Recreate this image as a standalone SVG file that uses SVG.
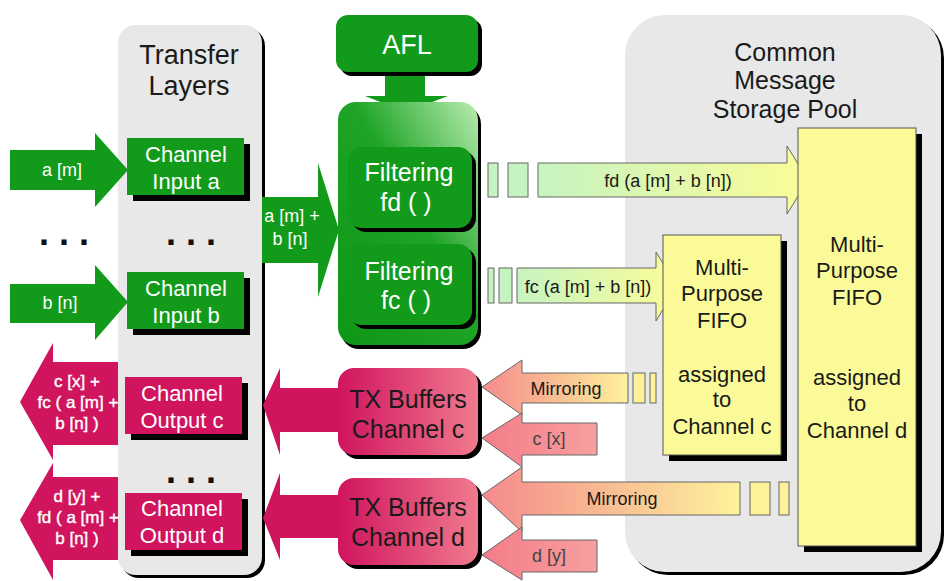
<svg xmlns="http://www.w3.org/2000/svg" width="947" height="581" viewBox="0 0 947 581">
<defs>
<style>
text{font-family:"Liberation Sans",Arial,sans-serif;text-anchor:middle}
.w{fill:#fff}
.k{fill:#1a1a1a}
.g{fill:#129b1b}
.m{fill:#d0145e}
.sh{fill:#000}
.y{fill:#fafa98;stroke:#555;stroke-width:1}
.t27{font-size:27px}
.t25{font-size:25px}
.t22{font-size:22px}
.t18{font-size:18px}
.t16b{font-size:17px;stroke:#fff;stroke-width:0.4}
.dots{font-size:36px;font-weight:bold;fill:#111}
.ol{stroke:#666;stroke-width:1}
</style>
<linearGradient id="gf" x1="0" y1="1" x2="1" y2="0">
<stop offset="0" stop-color="#0e9616"/>
<stop offset="0.55" stop-color="#1ea426"/>
<stop offset="1" stop-color="#b8ecb0"/>
</linearGradient>
<linearGradient id="gtx" x1="0" y1="0" x2="1" y2="0">
<stop offset="0" stop-color="#d0145e"/>
<stop offset="1" stop-color="#f07a8e"/>
</linearGradient>
<linearGradient id="ggy" x1="0" y1="0" x2="1" y2="0">
<stop offset="0" stop-color="#c6f4c0"/>
<stop offset="1" stop-color="#fcfc98"/>
</linearGradient>
<linearGradient id="gmir" x1="0" y1="0" x2="1" y2="0">
<stop offset="0" stop-color="#f58a8c"/>
<stop offset="1" stop-color="#fdf29a"/>
</linearGradient>
<linearGradient id="gpk" x1="0" y1="0" x2="1" y2="0">
<stop offset="0" stop-color="#f47c88"/>
<stop offset="1" stop-color="#f8a0a0"/>
</linearGradient>
</defs>

<!-- panels -->
<g id="transfer-layers">
<rect x="121" y="28" width="144" height="550" rx="18" class="sh"/>
<rect x="118" y="25" width="144" height="550" rx="18" fill="#e8e8e8"/>
<text x="189" y="64" class="t27 k">Transfer</text>
<text x="189" y="95" class="t27 k">Layers</text>
<text x="191" y="245" class="dots">. . .</text>
<text x="191" y="483" class="dots">. . .</text>
</g>
<g id="storage-pool">
<rect x="628" y="18" width="316" height="557" rx="40" class="sh"/>
<rect x="625" y="15" width="316" height="557" rx="40" fill="#e8e8e8"/>
<text x="785" y="61" class="t25 k">Common</text>
<text x="785" y="89" class="t25 k">Message</text>
<text x="785" y="118" class="t25 k">Storage Pool</text>
</g>
<text x="64" y="245" class="dots">. . .</text>

<!-- connectors -->
<g id="connectors">
<polygon points="10,150 95,150 95,133 128,170 95,207 95,190 10,190" class="g"/>
<polygon points="10,284 95,284 95,265 128,302 95,340 95,323 10,323" class="g"/>
<polygon points="262,197 318,197 318,163 339,230 318,297 318,263 262,263" class="g"/>
<polygon points="385,72 425,72 425,96 448,96 406,112 365,96 385,96" class="g"/>
<polygon points="118,362 53,362 53,343 20,402 53,460 53,445 118,445" class="m"/>
<polygon points="118,477 53,477 53,463 20,520 53,580 53,560 118,560" class="m"/>
<polygon points="340,388 280,388 280,368 263,405 280,455 280,432 340,432" class="m"/>
<polygon points="340,495 280,495 280,473 263,518 280,560 280,538 340,538" class="m"/>
<rect x="488" y="163" width="10" height="34" fill="#c6f4c0" class="ol"/>
<rect x="508" y="163" width="20" height="34" fill="#c6f4c0" class="ol"/>
<polygon points="538,163 787,163 787,146 808,180 787,214 787,197 538,197" fill="url(#ggy)" class="ol"/>
<rect x="488" y="268" width="6" height="35" fill="#c6f4c0" class="ol"/>
<rect x="499" y="268" width="13" height="35" fill="#c6f4c0" class="ol"/>
<polygon points="517,268 656,268 656,252 677,286 656,321 656,303 517,303" fill="url(#ggy)" class="ol"/>
<polygon points="628,373 522,373 522,360 482,387 522,415 522,403 628,403" fill="url(#gmir)" class="ol"/>
<rect x="633" y="373" width="12" height="30" fill="#fdf29a" class="ol"/>
<rect x="650" y="373" width="6" height="30" fill="#fdf29a" class="ol"/>
<polygon points="597,423 522,423 522,413 482,438 522,467 522,455 597,455" fill="url(#gpk)" class="ol"/>
<polygon points="740,482 522,482 522,467 482,495 522,532 522,515 740,515" fill="url(#gmir)" class="ol"/>
<rect x="750" y="482" width="20" height="33" fill="#fdf29a" class="ol"/>
<rect x="779" y="482" width="10" height="33" fill="#fdf29a" class="ol"/>
<polygon points="597,540 522,540 522,527 482,555 522,580 522,572 597,572" fill="url(#gpk)" class="ol"/>
<text x="62" y="176" class="t18 w">a [m]</text>
<text x="60" y="309" class="t18 w">b [n]</text>
<text x="292" y="222" class="t18 w">a [m] +</text>
<text x="290" y="245" class="t18 w">b [n]</text>
<text x="668" y="187" class="t18 k">fd (a [m] + b [n])</text>
<text x="588" y="293" class="t18 k">fc (a [m] + b [n])</text>
<text x="566" y="395" class="t18 k">Mirroring</text>
<text x="549" y="445" class="t18" fill="#444">c [x]</text>
<text x="622" y="505" class="t18 k">Mirroring</text>
<text x="549" y="562" class="t18" fill="#444">d [y]</text>
<text x="77" y="387" class="t16b w">c [x] +</text>
<text x="78" y="408" class="t16b w">fc ( a [m] +</text>
<text x="77" y="429" class="t16b w">b [n] )</text>
<text x="77" y="502" class="t16b w">d [y] +</text>
<text x="78" y="523" class="t16b w">fd ( a [m] +</text>
<text x="77" y="544" class="t16b w">b [n] )</text>
</g>

<!-- nodes -->
<g id="channel-input-a">
<rect x="133" y="144" width="117" height="57" class="sh"/>
<rect x="127" y="138" width="117" height="57" class="g"/>
<text x="186" y="162" class="t22 w">Channel</text>
<text x="186" y="189" class="t22 w">Input a</text>
</g>
<g id="channel-input-b">
<rect x="133" y="278" width="117" height="57" class="sh"/>
<rect x="127" y="272" width="117" height="57" class="g"/>
<text x="186" y="296" class="t22 w">Channel</text>
<text x="186" y="323" class="t22 w">Input b</text>
</g>
<g id="channel-output-c">
<rect x="131" y="383" width="117" height="57" class="sh"/>
<rect x="125" y="377" width="117" height="57" class="m"/>
<text x="182" y="401" class="t22 w">Channel</text>
<text x="182" y="428" class="t22 w">Output c</text>
</g>
<g id="channel-output-d">
<rect x="131" y="499" width="117" height="57" class="sh"/>
<rect x="125" y="493" width="117" height="57" class="m"/>
<text x="182" y="516" class="t22 w">Channel</text>
<text x="182" y="543" class="t22 w">Output d</text>
</g>
<g id="afl">
<rect x="340" y="19" width="142" height="57" rx="12" class="sh"/>
<rect x="336" y="15" width="142" height="57" rx="12" class="g"/>
<text x="407" y="54" class="t27 w">AFL</text>
</g>
<g id="filter-block">
<rect x="341" y="106" width="140" height="243" rx="18" class="sh"/>
<rect x="338" y="102" width="140" height="243" rx="18" fill="url(#gf)"/>
</g>
<g id="filtering-fd">
<rect x="352" y="151" width="124" height="81" rx="14" class="sh"/>
<rect x="348" y="147" width="124" height="81" rx="14" class="g"/>
<text x="409" y="181" class="t25 w">Filtering</text>
<text x="406" y="211" class="t25 w">fd ( )</text>
</g>
<g id="filtering-fc">
<rect x="352" y="248" width="124" height="81" rx="14" class="sh"/>
<rect x="348" y="244" width="124" height="81" rx="14" class="g"/>
<text x="409" y="280" class="t25 w">Filtering</text>
<text x="406" y="309" class="t25 w">fc ( )</text>
</g>
<g id="tx-buffers-c">
<rect x="342" y="372" width="140" height="87" rx="16" class="sh"/>
<rect x="338" y="368" width="140" height="87" rx="16" fill="url(#gtx)"/>
<text x="408" y="408" class="t25 k">TX Buffers</text>
<text x="408" y="438" class="t25 k">Channel c</text>
</g>
<g id="tx-buffers-d">
<rect x="342" y="482" width="140" height="87" rx="16" class="sh"/>
<rect x="338" y="478" width="140" height="87" rx="16" fill="url(#gtx)"/>
<text x="408" y="516" class="t25 k">TX Buffers</text>
<text x="408" y="546" class="t25 k">Channel d</text>
</g>
<g id="fifo-c">
<rect x="669" y="241" width="118" height="220" class="sh"/>
<rect x="663" y="235" width="118" height="220" class="y"/>
<text x="722" y="275" class="t22 k">Multi-</text>
<text x="722" y="301" class="t22 k">Purpose</text>
<text x="722" y="328" class="t22 k">FIFO</text>
<text x="722" y="382" class="t22 k">assigned</text>
<text x="722" y="407" class="t22 k">to</text>
<text x="722" y="434" class="t22 k">Channel c</text>
</g>
<g id="fifo-d">
<rect x="804" y="134" width="118" height="418" class="sh"/>
<rect x="798" y="128" width="118" height="418" class="y"/>
<text x="857" y="252" class="t22 k">Multi-</text>
<text x="857" y="278" class="t22 k">Purpose</text>
<text x="857" y="305" class="t22 k">FIFO</text>
<text x="857" y="385" class="t22 k">assigned</text>
<text x="857" y="411" class="t22 k">to</text>
<text x="857" y="438" class="t22 k">Channel d</text>
</g>
</svg>
